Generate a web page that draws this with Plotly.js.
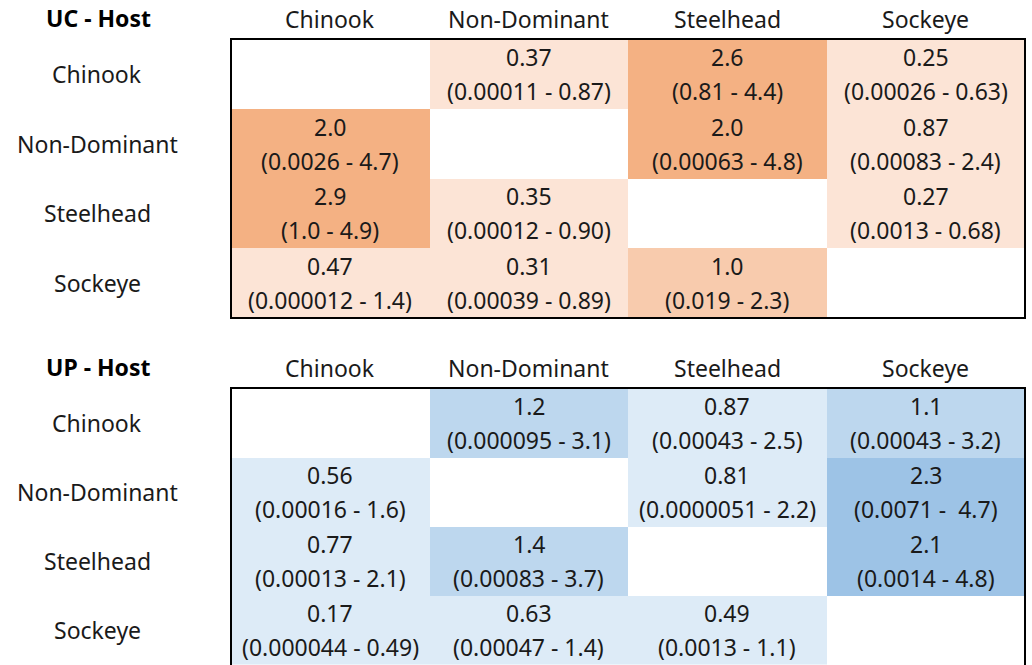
<!DOCTYPE html>
<html><head><meta charset="utf-8">
<script src="https://cdn.plot.ly/plotly-3.0.1.min.js"></script>
<style>html,body{margin:0;padding:0;background:#fff}#chart{width:1032px;height:665px}</style>
</head><body><div id="chart"></div>
<script>
const species = ["Chinook", "Non-Dominant", "Steelhead", "Sockeye"];
const tableTitles = ["UC - Host", "UP - Host"];

const ucEst = [
  ["", "0.37", "2.6", "0.25"],
  ["2.0", "", "2.0", "0.87"],
  ["2.9", "0.35", "", "0.27"],
  ["0.47", "0.31", "1.0", ""]
];
const ucCI = [
  ["", "(0.00011 - 0.87)", "(0.81 - 4.4)", "(0.00026 - 0.63)"],
  ["(0.0026 - 4.7)", "", "(0.00063 - 4.8)", "(0.00083 - 2.4)"],
  ["(1.0 - 4.9)", "(0.00012 - 0.90)", "", "(0.0013 - 0.68)"],
  ["(0.000012 - 1.4)", "(0.00039 - 0.89)", "(0.019 - 2.3)", ""]
];
const upEst = [
  ["", "1.2", "0.87", "1.1"],
  ["0.56", "", "0.81", "2.3"],
  ["0.77", "1.4", "", "2.1"],
  ["0.17", "0.63", "0.49", ""]
];
const upCI = [
  ["", "(0.000095 - 3.1)", "(0.00043 - 2.5)", "(0.00043 - 3.2)"],
  ["(0.00016 - 1.6)", "", "(0.0000051 - 2.2)", "(0.0071 - \u00a04.7)"],
  ["(0.00013 - 2.1)", "(0.00083 - 3.7)", "", "(0.0014 - 4.8)"],
  ["(0.000044 - 0.49)", "(0.00047 - 1.4)", "(0.0013 - 1.1)", ""]
];

const orangeScale = [[0, "#FCE4D6"], [0.33, "#FCE4D6"], [0.33, "#F8CBAD"], [0.66, "#F8CBAD"], [0.66, "#F4B183"], [1, "#F4B183"]];
const blueScale = [[0, "#DDEBF7"], [0.33, "#DDEBF7"], [0.33, "#BDD7EE"], [0.66, "#BDD7EE"], [0.66, "#9DC3E6"], [1, "#9DC3E6"]];

const FONT = "'Noto Sans', 'DejaVu Sans', sans-serif";
const FS = 23;
function toZ(est) { return est.map(r => r.map(v => v === "" ? null : parseFloat(v))); }

const tables = [
  {est: ucEst, ci: ucCI, scale: orangeScale, xa: "x", ya: "y"},
  {est: upEst, ci: upCI, scale: blueScale, xa: "x2", ya: "y2"}
];

const traces = tables.map(t => ({
  type: "heatmap", x: species, y: species, z: toZ(t.est),
  colorscale: t.scale, zmin: 0, zmax: 3, showscale: false, hoverinfo: "skip",
  xaxis: t.xa, yaxis: t.ya, xgap: 0, ygap: 0
}));

const annotations = [];
const shapes = [];
tables.forEach((t, ti) => {
  const yref = t.ya;
  const xref = t.xa;
  species.forEach((rowName, r) => {
    species.forEach((colName, c) => {
      if (t.est[r][c] !== "") {
        annotations.push({x: colName, y: rowName, xref, yref, text: t.est[r][c], showarrow: false,
          yshift: 17, font: {family: FONT, size: FS, color: "#1a1a1a"}});
        annotations.push({x: colName, y: rowName, xref, yref, text: t.ci[r][c], showarrow: false,
          yshift: -17, font: {family: FONT, size: FS, color: "#1a1a1a"}});
      }
    });
    annotations.push({x: 97 / 1032, xref: "paper", xanchor: "center", y: rowName, yref, text: rowName, showarrow: false,
      font: {family: FONT, size: FS, color: "#1a1a1a"}});
  });
  species.forEach(colName => {
    annotations.push({x: colName, xref, y: 1, yref: yref + " domain", yanchor: "bottom", yshift: 2,
      text: colName, showarrow: false, font: {family: FONT, size: FS, color: "#1a1a1a"}});
  });
  annotations.push({x: 98 / 1032, xref: "paper", xanchor: "center", y: 1, yref: yref + " domain", yanchor: "bottom", yshift: 3,
    text: tableTitles[ti], showarrow: false, font: {family: FONT, size: 23, color: "#000", weight: "bold"}});
  shapes.push({type: "rect", xref: xref + " domain", yref: yref + " domain", x0: 0, x1: 1,
    y0: ti === 1 ? -0.05 : 0, y1: 1, line: {color: "#000", width: 2}, fillcolor: "rgba(0,0,0,0)"});
});

const axisCommon = {showticklabels: false, showgrid: false, zeroline: false, showline: false, ticks: "", fixedrange: true};
const layout = {
  width: 1032, height: 665,
  margin: {l: 0, r: 0, t: 0, b: 0},
  paper_bgcolor: "#fff", plot_bgcolor: "#fff",
  showlegend: false,
  xaxis: Object.assign({}, axisCommon, {domain: [231 / 1032, 1025 / 1032], anchor: "y"}),
  yaxis: Object.assign({}, axisCommon, {domain: [(665 - 318) / 665, (665 - 39) / 665], autorange: "reversed", anchor: "x"}),
  xaxis2: Object.assign({}, axisCommon, {domain: [231 / 1032, 1025 / 1032], anchor: "y2"}),
  yaxis2: Object.assign({}, axisCommon, {domain: [0, (665 - 388) / 665], autorange: "reversed", anchor: "x2"}),
  annotations, shapes
};
Plotly.newPlot("chart", traces, layout, {displayModeBar: false, staticPlot: true});
</script></body></html>
